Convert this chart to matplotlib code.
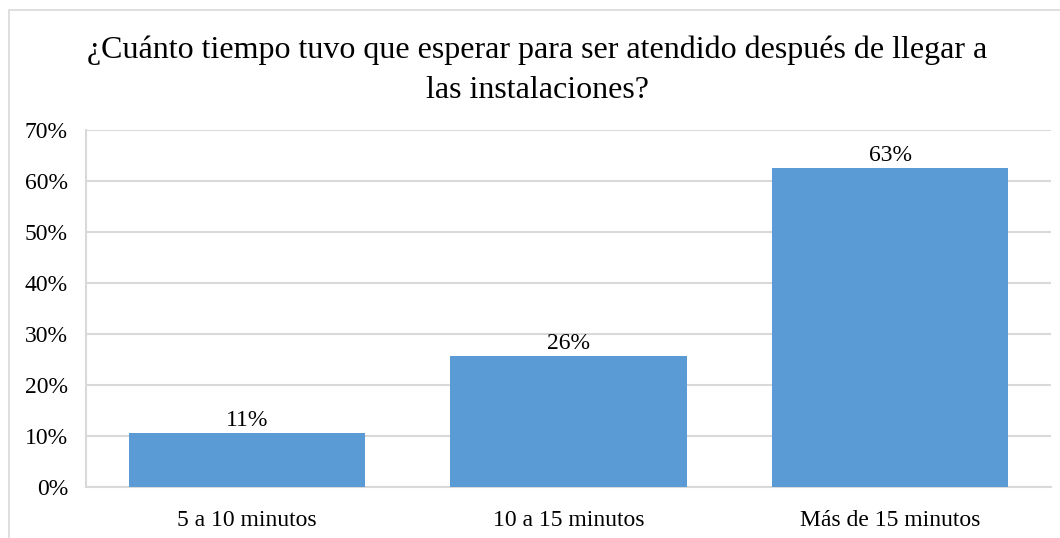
import matplotlib
matplotlib.use("Agg")
import matplotlib.pyplot as plt
from matplotlib.patches import Rectangle

categories = ["5 a 10 minutos", "10 a 15 minutos", "Más de 15 minutos"]
values = [10.6, 25.7, 62.6]
yticks = [0, 10, 20, 30, 40, 50, 60, 70]
title = "¿Cuánto tiempo tuvo que esperar para ser atendido después de llegar a\nlas instalaciones?"

plt.rcParams['font.family'] = ['Liberation Serif', 'DejaVu Serif']

fig = plt.figure(figsize=(10.6, 5.38), dpi=100)
ax = fig.add_axes([86/1060, 1-487/538, (1051-86)/1060, (487-130)/538])

x = range(len(categories))
bars = ax.bar(x, values, width=0.735, color="#5B9BD5", zorder=3)
for xi, v in zip(x, values):
    ax.text(xi, v + 0.4, f"{round(v)}%", ha="center", va="bottom", fontsize=17, color="#000000", zorder=4)

ax.set_xlim(-0.5, len(categories) - 0.5)
ax.set_ylim(0, 70)
ax.set_yticks(yticks)
ax.set_yticklabels([f"{t}%" for t in yticks], fontsize=17)
ax.set_xticks(list(x))
ax.set_xticklabels(categories, fontsize=17)
ax.tick_params(axis="both", length=0, colors="#000000")
ax.tick_params(axis="y", pad=13)
ax.tick_params(axis="x", pad=16.5)
ax.yaxis.grid(True, color="#D9D9D9", linewidth=1.5, zorder=0)
for s in ["top", "right"]:
    ax.spines[s].set_visible(False)
ax.spines["left"].set_color("#D9D9D9")
ax.spines["left"].set_linewidth(1.5)
ax.spines["bottom"].set_color("#D9D9D9")
ax.spines["bottom"].set_linewidth(1.5)

fig.text(537/1060, 1-70/538, title, ha="center", va="center", fontsize=23, linespacing=1.5)

fig.patches.append(Rectangle((9/1060, -0.05), 1.1, 1 - 10/538 + 0.05, transform=fig.transFigure,
                             fill=False, edgecolor="#D9D9D9", linewidth=1.2))

fig.savefig("out.png", dpi=100)
